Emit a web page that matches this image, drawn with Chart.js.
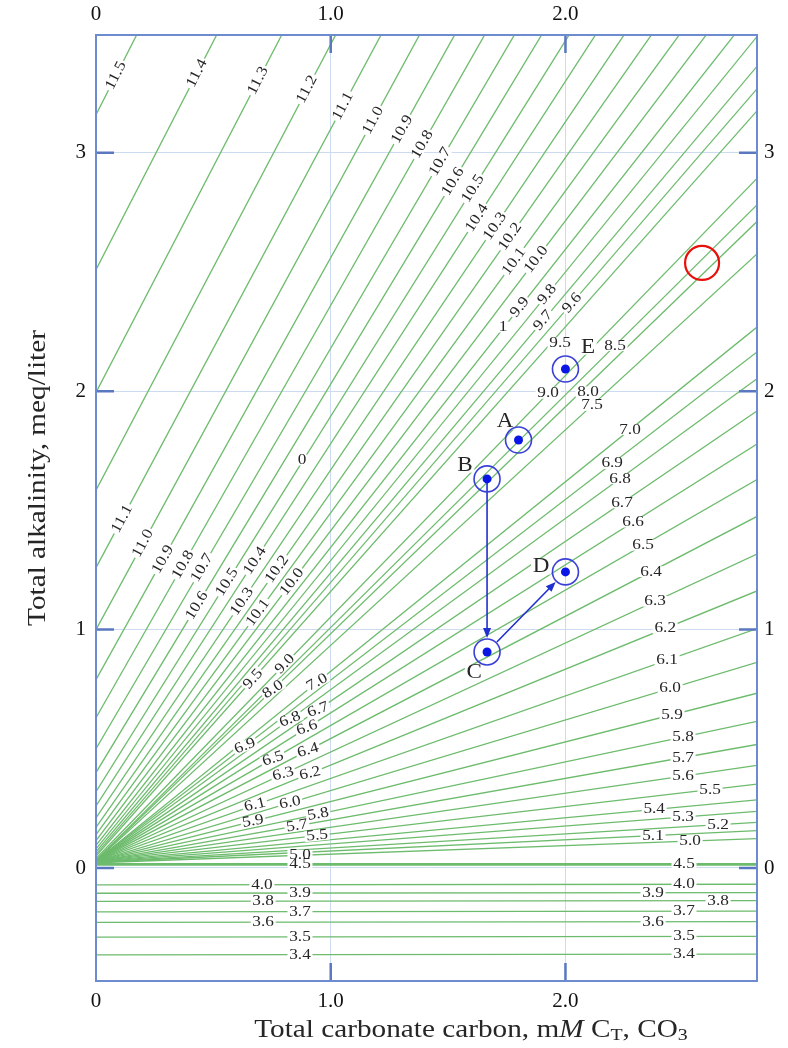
<!DOCTYPE html>
<html>
<head>
<meta charset="utf-8">
<script src="https://cdn.jsdelivr.net/npm/chart.js@4.4.1/dist/chart.umd.min.js"></script>
<style>
  html, body { margin: 0; padding: 0; background: #fff; }
  #wrap { width: 788px; height: 1048px; }
</style>
</head>
<body>
<div id="wrap"><canvas id="deffeyes" width="788" height="1048"></canvas></div>
<script>
// constant-pH lines: alkalinity (meq/L) at C_T = 0 and slope dAlk/dC_T
const phValues = [3.4, 3.5, 3.6, 3.7, 3.8, 3.9, 4.0, 4.5,
  5.0, 5.1, 5.2, 5.3, 5.4, 5.5, 5.6, 5.7, 5.8, 5.9,
  6.0, 6.1, 6.2, 6.3, 6.4, 6.5, 6.6, 6.7, 6.8, 6.9, 7.0,
  7.5, 8.0, 8.5, 9.0,
  9.5, 9.6, 9.7, 9.8, 9.9, 10.0, 10.1, 10.2, 10.3, 10.4,
  10.5, 10.6, 10.7, 10.8, 10.9, 11.0, 11.1, 11.2, 11.3, 11.4, 11.5];
const alkAtZero = [-0.364, -0.290, -0.228, -0.184, -0.140, -0.106, -0.071, 0.015,
  0.022, 0.024, 0.025, 0.026, 0.027, 0.028, 0.028, 0.028, 0.029, 0.029,
  0.029, 0.030, 0.030, 0.030, 0.030, 0.030, 0.030, 0.030, 0.030, 0.030, 0.030,
  0.030, 0.031, 0.033, 0.040,
  0.050, 0.058, 0.068, 0.080, 0.095, 0.115, 0.140, 0.170, 0.210, 0.260,
  0.320, 0.400, 0.500, 0.630, 0.790, 1.000, 1.260, 1.585, 1.995, 2.510, 3.160];
const alkSlope = [0.001, 0.001, 0.001, 0.001, 0.001, 0.001, 0.001, 0.000,
  0.036, 0.047, 0.059, 0.075, 0.092, 0.115, 0.143, 0.174, 0.208, 0.250,
  0.296, 0.346, 0.402, 0.457, 0.513, 0.568, 0.621, 0.670, 0.718, 0.758, 0.795,
  0.904, 0.952, 0.976, 1.013,
  1.110, 1.140, 1.170, 1.210, 1.250, 1.300, 1.350, 1.405, 1.460, 1.520,
  1.575, 1.630, 1.680, 1.730, 1.770, 1.810, 1.840, 1.870, 1.895, 1.915, 1.930];

const ctRange = [0, 2.816];
const alkRange = [-0.474, 3.494];
const xTicks = [0, 1, 2];
const yTicks = [0, 1, 2, 3];

// sample waters
const pointNames = ['A', 'B', 'C', 'D', 'E'];
const pointCT = [1.800, 1.666, 1.666, 2.000, 2.000];
const pointAlk = [1.795, 1.632, 0.906, 1.242, 2.093];
const arrowPath = [['B', 'C'], ['C', 'D']];
const markedCT = [2.582];
const markedAlk = [2.538];

// where the pH numbers sit: [text, C_T, alk (null = on its line), tilt]
const lineLabels = [
  ['11.5', 0.085, null, 1], ['11.4', 0.430, null, 1], ['11.3', 0.690, null, 1], ['11.2', 0.899, null, 1],
  ['11.1', 1.052, null, 1], ['11.0', 1.180, null, 1], ['10.9', 1.304, null, 1], ['10.8', 1.390, null, 1],
  ['10.7', 1.466, null, 1], ['10.6', 1.521, null, 1], ['10.5', 1.606, null, 1], ['10.4', 1.623, null, 1],
  ['10.3', 1.700, null, 1], ['10.2', 1.764, null, 1], ['10.1', 1.781, null, 1], ['10.0', 1.875, null, 1],
  ['9.9', 1.806, null, 1], ['9.8', 1.922, null, 1], ['9.7', 1.905, null, 1], ['9.6', 2.028, null, 1],
  ['1', 1.734, 2.269, 0], ['0', 0.878, 1.711, 0],
  ['11.1', 0.111, null, 1], ['11.0', 0.200, null, 1], ['10.9', 0.285, null, 1], ['10.8', 0.371, null, 1],
  ['10.7', 0.452, null, 1], ['10.6', 0.430, null, 1], ['10.5', 0.558, null, 1], ['10.4', 0.677, null, 1],
  ['10.3', 0.622, null, 1], ['10.2', 0.771, null, 1], ['10.1', 0.690, null, 1], ['10.0', 0.835, null, 1],
  ['9.5', 0.669, null, 1], ['9.0', 0.805, null, 1], ['8.0', 0.754, null, 0.75], ['7.0', 0.942, null, 0.75],
  ['6.9', 0.635, null, 0.6], ['6.8', 0.827, null, 0.6], ['6.7', 0.946, null, 0.6], ['6.6', 0.899, null, 0.6],
  ['6.5', 0.754, null, 0.6], ['6.4', 0.903, null, 0.6], ['6.3', 0.797, null, 0.6], ['6.2', 0.912, null, 0.6],
  ['6.1', 0.677, null, 0.7], ['6.0', 0.827, null, 0.7], ['5.9', 0.669, null, 0.7], ['5.8', 0.946, null, 0.9],
  ['5.7', 0.856, null, 0.9], ['5.5', 0.942, null, 0.9], ['5.0', 0.869, null, 0], ['4.5', 0.869, null, 0],
  ['4.0', 0.707, null, 0], ['3.9', 0.869, null, 0], ['3.8', 0.712, null, 0], ['3.7', 0.869, null, 0],
  ['3.6', 0.712, null, 0], ['3.5', 0.869, null, 0], ['3.4', 0.869, null, 0],
  ['9.5', 1.977, 2.202, 0], ['8.5', 2.211, null, 0], ['9.0', 1.926, null, 0], ['8.0', 2.096, 1.997, 0],
  ['7.5', 2.113, null, 0], ['7.0', 2.275, null, 0], ['6.9', 2.199, null, 0], ['6.8', 2.233, null, 0],
  ['6.7', 2.241, null, 0], ['6.6', 2.288, null, 0], ['6.5', 2.331, null, 0], ['6.4', 2.365, null, 0],
  ['6.3', 2.382, null, 0], ['6.2', 2.425, null, 0], ['6.1', 2.433, null, 0], ['6.0', 2.446, null, 0],
  ['5.9', 2.454, null, 0], ['5.8', 2.501, null, 0], ['5.7', 2.501, null, 0], ['5.6', 2.501, null, 0],
  ['5.5', 2.616, null, 0], ['5.4', 2.378, null, 0], ['5.3', 2.501, null, 0], ['5.2', 2.650, null, 0],
  ['5.1', 2.373, null, 0], ['5.0', 2.531, null, 0], ['4.5', 2.505, null, 0], ['4.0', 2.505, null, 0],
  ['3.9', 2.373, null, 0], ['3.8', 2.650, null, 0], ['3.7', 2.505, null, 0], ['3.6', 2.373, null, 0],
  ['3.5', 2.505, null, 0], ['3.4', 2.505, null, 0]
];
// letters next to the sample points: [name, C_T, alk]
const pointTags = [['A', 1.743, 1.871], ['B', 1.572, 1.690], ['C', 1.611, 0.822], ['D', 1.896, 1.263], ['E', 2.096, 2.185]];

const SERIF = '"Liberation Serif", "Times New Roman", serif';
const GREEN = '#6dbb6d';
const BLUE = '#6c8ccf';

function putText(ctx, text, x, y, angle, size, stretch, boxed, italic) {
  ctx.save();
  ctx.translate(x, y);
  ctx.rotate(angle);
  ctx.scale(stretch, 1);
  ctx.font = (italic ? 'italic ' : '') + size + 'px ' + SERIF;
  ctx.textAlign = 'center';
  ctx.textBaseline = 'middle';
  if (boxed) {
    const w = ctx.measureText(text).width;
    ctx.fillStyle = '#fff';
    ctx.fillRect(-w / 2 - 1.5, -size * 0.36, w + 3, size * 0.72);
  }
  ctx.fillStyle = '#262626';
  ctx.fillText(text, 0, 0);
  ctx.restore();
}

function phIndex(text) {
  return phValues.findIndex(v => v.toFixed(1) === text);
}

function drawLabels(chart) {
  const ctx = chart.ctx, xs = chart.scales.x, ys = chart.scales.y;
  const kx = xs.getPixelForValue(1) - xs.getPixelForValue(0);
  const ky = ys.getPixelForValue(1) - ys.getPixelForValue(0);
  ctx.save();
  ctx.beginPath();
  ctx.rect(chart.chartArea.left, chart.chartArea.top, chart.chartArea.width, chart.chartArea.height);
  ctx.clip();
  lineLabels.forEach(([text, ct, alk, tilt]) => {
    const i = phIndex(text);
    let a = alk;
    let angle = 0;
    if (i >= 0) {
      if (a === null) a = alkAtZero[i] + alkSlope[i] * ct;
      angle = Math.atan2(ky * alkSlope[i], kx) * tilt;
    }
    putText(ctx, text, xs.getPixelForValue(ct), ys.getPixelForValue(a), angle, 15, 1.15, true);
  });
  pointTags.forEach(([name, ct, alk]) => {
    putText(ctx, name, xs.getPixelForValue(ct), ys.getPixelForValue(alk), 0, 21, 1.1, true);
  });
  ctx.restore();
}

function drawArrows(chart) {
  const ctx = chart.ctx, xs = chart.scales.x, ys = chart.scales.y;
  const trims = [[0, 14], [14, 14]];
  ctx.save();
  ctx.strokeStyle = '#1f2fd0';
  ctx.fillStyle = '#1f2fd0';
  ctx.lineWidth = 1.6;
  arrowPath.forEach(([from, to], k) => {
    const a = pointNames.indexOf(from), b = pointNames.indexOf(to);
    const x0 = xs.getPixelForValue(pointCT[a]), y0 = ys.getPixelForValue(pointAlk[a]);
    const x1 = xs.getPixelForValue(pointCT[b]), y1 = ys.getPixelForValue(pointAlk[b]);
    const len = Math.hypot(x1 - x0, y1 - y0);
    const ux = (x1 - x0) / len, uy = (y1 - y0) / len;
    const sx = x0 + ux * trims[k][0], sy = y0 + uy * trims[k][0];
    const ex = x1 - ux * trims[k][1], ey = y1 - uy * trims[k][1];
    ctx.beginPath();
    ctx.moveTo(sx, sy);
    ctx.lineTo(ex - ux * 6, ey - uy * 6);
    ctx.stroke();
    ctx.beginPath();
    ctx.moveTo(ex, ey);
    ctx.lineTo(ex - ux * 10 - uy * 4, ey - uy * 10 + ux * 4);
    ctx.lineTo(ex - ux * 10 + uy * 4, ey - uy * 10 - ux * 4);
    ctx.closePath();
    ctx.fill();
  });
  ctx.restore();
}

function drawFrame(chart) {
  const ctx = chart.ctx, a = chart.chartArea, xs = chart.scales.x, ys = chart.scales.y;
  ctx.save();
  ctx.strokeStyle = '#5a78c0';
  ctx.lineWidth = 2.5;
  ctx.beginPath();
  yTicks.forEach(v => {
    const p = ys.getPixelForValue(v);
    ctx.moveTo(a.left, p); ctx.lineTo(a.left + 18, p);
    ctx.moveTo(a.right - 18, p); ctx.lineTo(a.right, p);
  });
  xTicks.filter(v => v > 0).forEach(v => {
    const p = xs.getPixelForValue(v);
    ctx.moveTo(p, a.top); ctx.lineTo(p, a.top + 18);
    ctx.moveTo(p, a.bottom - 18); ctx.lineTo(p, a.bottom);
  });
  ctx.stroke();
  ctx.strokeStyle = BLUE;
  ctx.lineWidth = 2;
  ctx.strokeRect(a.left, a.top, a.right - a.left, a.bottom - a.top);
  ctx.restore();
}

function drawTitles(chart) {
  const ctx = chart.ctx;
  const size = 25, stretch = 1.17;
  putText(ctx, 'Total alkalinity, meq/liter', 38, 478, -Math.PI / 2, size, stretch, false);

  // bottom title with italic M and subscripts
  const parts = [
    ['Total carbonate carbon, m', size, false, 0],
    ['M', size, true, 0],
    [' C', size, false, 0],
    ['T', 17, false, 6],
    [', CO', size, false, 0],
    ['3', 17, false, 6]
  ];
  ctx.save();
  let widths = parts.map(([t, s, it]) => {
    ctx.font = (it ? 'italic ' : '') + s + 'px ' + SERIF;
    return ctx.measureText(t).width * stretch;
  });
  const total = widths.reduce((p, c) => p + c, 0);
  let x = 471 - total / 2;
  ctx.restore();
  parts.forEach(([t, s, it, dy], k) => {
    putText(ctx, t, x + widths[k] / 2, 1030 + dy, 0, s, stretch, false, it);
    x += widths[k];
  });
}

const decor = {
  id: 'decor',
  beforeDatasetsDraw(chart) { chart.$labelsDone = false; },
  beforeDatasetDraw(chart, args) {
    const ds = chart.data.datasets[args.index];
    if (!ds.phLine && !chart.$labelsDone) {
      drawLabels(chart);
      drawArrows(chart);
      chart.$labelsDone = true;
    }
  },
  afterDraw(chart) {
    drawFrame(chart);
    drawTitles(chart);
  }
};

const samples = pointCT.map((c, i) => ({ x: c, y: pointAlk[i] }));
const datasets = [
  { label: 'dots', data: samples, pointRadius: 4.5, pointBackgroundColor: '#0b16e6', pointBorderWidth: 0, order: 0 },
  { label: 'rings', data: samples, pointRadius: 13, pointBackgroundColor: 'rgba(0,0,0,0)',
    pointBorderColor: '#3b40d6', pointBorderWidth: 1.6, order: 0 },
  { label: 'marked', data: markedCT.map((c, i) => ({ x: c, y: markedAlk[i] })), pointRadius: 17,
    pointBackgroundColor: 'rgba(0,0,0,0)', pointBorderColor: '#e8100c', pointBorderWidth: 2.2, order: 1 }
];
phValues.forEach((ph, i) => {
  datasets.push({
    label: 'pH ' + ph.toFixed(1),
    phLine: true,
    data: [
      { x: ctRange[0], y: alkAtZero[i] + alkSlope[i] * ctRange[0] },
      { x: ctRange[1], y: alkAtZero[i] + alkSlope[i] * ctRange[1] }
    ],
    showLine: true,
    pointRadius: 0,
    borderColor: GREEN,
    borderWidth: ph === 4.5 ? 2.6 : 1.3,
    order: 2
  });
});

const tickFont = { family: SERIF, size: 21 };
const gridColor = '#cddbf0';

new Chart(document.getElementById('deffeyes'), {
  type: 'scatter',
  data: { datasets },
  options: {
    responsive: false,
    animation: false,
    devicePixelRatio: 1,
    events: [],
    layout: { padding: 0 },
    plugins: { legend: { display: false }, tooltip: { enabled: false } },
    scales: {
      x: {
        type: 'linear', position: 'bottom', min: ctRange[0], max: ctRange[1],
        afterBuildTicks: s => { s.ticks = xTicks.map(v => ({ value: v })); },
        afterFit: s => { s.height = 67; },
        grid: { color: gridColor, lineWidth: 1, drawTicks: false },
        border: { display: false },
        ticks: { padding: 8, font: tickFont, color: '#111', maxRotation: 0, autoSkip: false,
          callback: v => v === 0 ? '0' : v.toFixed(1) }
      },
      xTop: {
        type: 'linear', axis: 'x', position: 'top', min: ctRange[0], max: ctRange[1],
        afterBuildTicks: s => { s.ticks = xTicks.map(v => ({ value: v })); },
        afterFit: s => { s.height = 35; },
        grid: { display: false, drawTicks: false },
        border: { display: false },
        ticks: { padding: 8, font: tickFont, color: '#111', maxRotation: 0, autoSkip: false,
          callback: v => v === 0 ? '0' : v.toFixed(1) }
      },
      y: {
        type: 'linear', position: 'left', min: alkRange[0], max: alkRange[1],
        afterBuildTicks: s => { s.ticks = yTicks.map(v => ({ value: v })); },
        afterFit: s => { s.width = 96; },
        grid: { color: gridColor, lineWidth: 1, drawTicks: false },
        border: { display: false },
        ticks: { padding: 10, font: tickFont, color: '#111', callback: v => String(v) }
      },
      yRight: {
        type: 'linear', axis: 'y', position: 'right', min: alkRange[0], max: alkRange[1],
        afterBuildTicks: s => { s.ticks = yTicks.map(v => ({ value: v })); },
        afterFit: s => { s.width = 31; },
        grid: { display: false, drawTicks: false },
        border: { display: false },
        ticks: { padding: 7, font: tickFont, color: '#111', callback: v => String(v) }
      }
    }
  },
  plugins: [decor]
});
</script>
</body>
</html>
